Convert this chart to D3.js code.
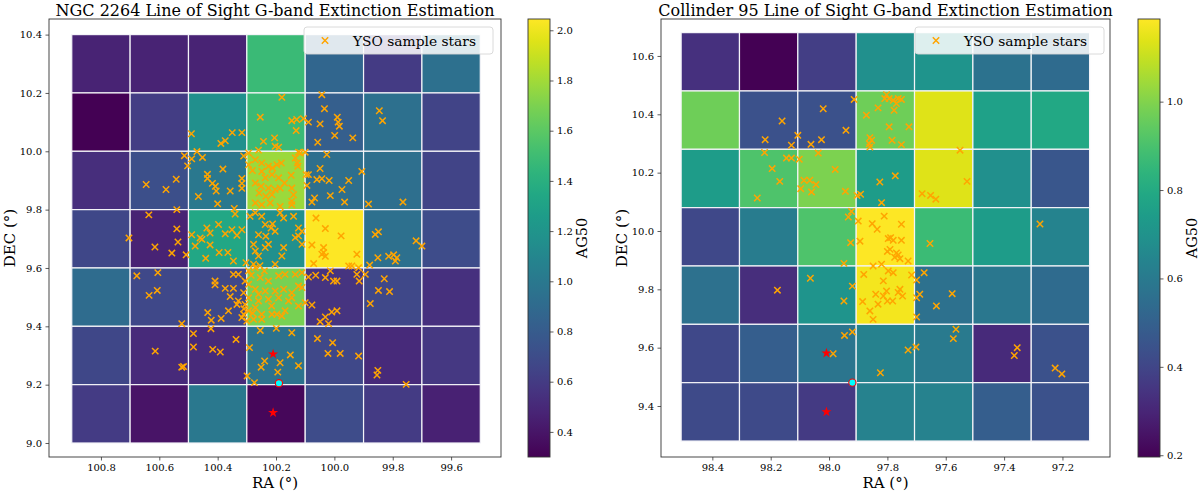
<!DOCTYPE html>
<html><head><meta charset="utf-8">
<script src="https://cdn.jsdelivr.net/npm/d3@7"></script>
<style>
body{margin:0;background:#fff;}
svg{display:block;font-family:"DejaVu Serif",serif;}
</style>
</head><body>
<svg id="chart" width="1200" height="492"></svg>
<script>
// ---------------- DATA ----------------
const ngcTitle = "NGC 2264 Line of Sight G-band Extinction Estimation";
const colTitle = "Collinder 95 Line of Sight G-band Extinction Estimation";

// cell centres
const ngcRA  = [100.8, 100.6, 100.4, 100.2, 100.0, 99.8, 99.6];
const ngcDEC = [10.3, 10.1, 9.9, 9.7, 9.5, 9.3, 9.1];
const ngcAG50 = [
  [0.47, 0.47, 0.47, 1.48, 0.87, 0.60, 0.94],
  [0.30, 0.61, 1.17, 1.48, 0.82, 0.94, 0.65],
  [0.53, 0.72, 1.00, 1.78, 0.93, 0.93, 0.65],
  [0.67, 0.47, 1.34, 1.17, 2.045, 0.94, 0.70],
  [0.91, 0.68, 0.68, 1.69, 0.56, 0.68, 0.54],
  [0.67, 0.51, 0.51, 0.96, 0.68, 0.51, 0.58],
  [0.60, 0.39, 1.00, 0.33, 0.70, 0.60, 0.46]
];
const ngcXTicks = [100.8, 100.6, 100.4, 100.2, 100.0, 99.8, 99.6];
const ngcYTicks = [9.0, 9.2, 9.4, 9.6, 9.8, 10.0, 10.2, 10.4];
const ngcCbTicks = [0.4, 0.6, 0.8, 1.0, 1.2, 1.4, 1.6, 1.8, 2.0];

const colRA  = [98.407, 98.207, 98.007, 97.807, 97.607, 97.407, 97.207];
const colDEC = [10.58, 10.38, 10.18, 9.98, 9.78, 9.58, 9.38];
const colAG50 = [
  [0.335, 0.196, 0.375, 0.69, 0.71, 0.57, 0.54],
  [0.97, 0.44, 0.44, 0.97, 1.14, 0.76, 0.79],
  [0.74, 0.91, 0.99, 0.74, 1.14, 0.69, 0.46],
  [0.41, 0.61, 0.91, 1.187, 0.87, 0.74, 0.64],
  [0.56, 0.325, 0.71, 1.17, 0.56, 0.59, 0.54],
  [0.41, 0.49, 0.58, 0.63, 0.60, 0.315, 0.44],
  [0.42, 0.42, 0.365, 0.63, 0.63, 0.49, 0.44]
];
const colXTicks = [98.4, 98.2, 98.0, 97.8, 97.6, 97.4, 97.2];
const colYTicks = [9.4, 9.6, 9.8, 10.0, 10.2, 10.4, 10.6];
const colCbTicks = [0.2, 0.4, 0.6, 0.8, 1.0];

// YSO sample stars [RA, DEC]
const ngcYSO = [
[100.18,10.185],[100.043,10.194],[100.034,10.146],[100.254,10.117],[100.146,10.105],[100.129,10.109],[100.106,10.112],[100.089,10.100],[100.049,10.094],[99.990,10.117],[99.987,10.100],[99.983,10.086],[100.131,10.071],[99.846,10.139],[99.835,10.105],[100.490,10.060],[100.350,10.064],[100.317,10.064],[100.374,10.036],[100.389,10.027],[100.243,10.034],[100.205,10.046],[100.203,10.017],[100.191,10.014],[100.057,10.031],[99.999,10.054],[99.937,10.046],[100.260,10.004],[100.471,9.999],[100.489,9.974],[100.503,9.950],[100.514,9.985],[100.452,9.979],[100.311,9.984],[100.123,9.997],[100.100,9.997],[100.127,9.960],
[100.382,9.939],[100.435,9.921],[100.435,9.907],[100.418,9.890],[100.408,9.880],[100.405,9.864],[100.357,9.864],[100.466,9.845],[100.400,9.820],[100.343,9.804],[100.317,9.907],[100.317,9.890],[100.317,9.873],
[100.645,9.886],[100.577,9.869],[100.542,9.904],
[100.294,9.994],[100.271,9.971],[100.249,9.960],[100.281,9.934],[100.249,9.931],[100.226,9.949],[100.212,9.943],[100.197,9.954],[100.182,9.960],[100.214,9.920],[100.237,9.909],[100.191,9.909],[100.148,9.918],[100.171,9.891],[100.271,9.891],[100.251,9.880],[100.226,9.874],[100.203,9.869],[100.258,9.857],[100.235,9.846],[100.214,9.851],[100.186,9.874],[100.146,9.874],[100.140,9.851],[100.146,9.829],[100.271,9.823],[100.249,9.817],[100.220,9.823],[100.186,9.811],[100.146,9.817],[100.125,9.949],[100.134,9.977],[100.117,9.994],[100.097,9.920],[100.294,9.954],
[100.026,9.989],[100.049,9.941],[100.089,9.920],[100.060,9.903],[100.043,9.906],[100.018,9.900],[99.951,9.900],[99.906,9.931],[100.094,9.883],[99.974,9.869],[100.014,9.848],[100.068,9.840],[100.077,9.826],[99.965,9.826],[99.883,9.819],[99.765,9.826],
[100.636,9.782],[100.540,9.800],[100.540,9.734],[100.704,9.703],[100.615,9.672],[100.557,9.651],[100.536,9.689],[100.508,9.645],
[100.489,9.714],[100.460,9.703],[100.437,9.737],[100.426,9.720],[100.397,9.749],[100.374,9.717],[100.351,9.731],[100.334,9.712],[100.317,9.731],[100.340,9.785],[100.477,9.675],[100.454,9.698],[100.426,9.679],[100.395,9.653],[100.365,9.653],[100.441,9.633],[100.346,9.624],[100.303,9.618],
[100.289,9.777],[100.271,9.789],[100.249,9.777],[100.237,9.749],[100.217,9.737],[100.203,9.726],[100.212,9.751],[100.186,9.789],[100.174,9.771],[100.140,9.777],[100.123,9.737],[100.111,9.726],[100.260,9.714],[100.235,9.709],[100.277,9.681],[100.271,9.658],[100.260,9.641],[100.237,9.670],[100.226,9.681],[100.180,9.641],[100.174,9.670],[100.203,9.613],[100.277,9.613],[100.134,9.704],[100.111,9.681],[100.123,9.710],[100.255,9.608],
[100.077,9.679],[100.037,9.670],[100.037,9.653],[100.031,9.640],[100.043,9.647],[99.977,9.710],[99.923,9.647],[100.071,9.615],[99.951,9.607],[99.940,9.607],[100.063,9.771],[100.031,9.735],
[99.860,9.715],[99.849,9.724],[99.851,9.635],[99.814,9.640],[99.797,9.645],[99.786,9.635],[99.791,9.624],[99.879,9.610],
[99.720,9.693],[99.700,9.675],
[100.677,9.573],[100.605,9.584],[100.607,9.523],[100.635,9.506],
[100.409,9.555],[100.409,9.542],[100.346,9.578],[100.329,9.578],[100.374,9.530],[100.346,9.530],[100.357,9.502],[100.434,9.447],[100.422,9.421],[100.388,9.427],[100.363,9.453],[100.523,9.409],
[100.294,9.590],[100.271,9.601],[100.254,9.567],[100.226,9.555],[100.191,9.573],[100.169,9.578],[100.134,9.578],[100.111,9.584],[100.294,9.544],[100.271,9.527],[100.237,9.521],[100.203,9.521],[100.174,9.527],[100.146,9.515],[100.123,9.538],[100.100,9.481],[100.294,9.498],[100.260,9.487],[100.226,9.493],[100.191,9.498],[100.157,9.487],[100.294,9.453],[100.271,9.464],[100.249,9.441],[100.214,9.441],[100.180,9.435],[100.311,9.441],[100.306,9.475],[100.277,9.424],[100.249,9.424],[100.300,9.418],[100.317,9.430],[100.329,9.487],[100.334,9.475],[100.311,9.515],[100.306,9.555],[100.123,9.470],[100.169,9.453],[100.146,9.498],[100.197,9.441],[100.285,9.575],[100.240,9.590],[100.260,9.510],[100.215,9.470],[100.280,9.445],[100.310,9.460],
[100.089,9.569],[100.064,9.575],[100.031,9.567],[100.014,9.590],[100.003,9.555],[99.991,9.555],[99.923,9.578],[99.917,9.601],[99.915,9.555],[99.894,9.578],[100.077,9.473],[100.049,9.416],[100.031,9.432],[100.020,9.409],[100.009,9.449],[99.991,9.453],[100.111,9.533],
[99.877,9.478],[99.849,9.523],[99.811,9.519],[99.829,9.563],
[100.614,9.315],[100.523,9.260],[100.517,9.262],
[100.483,9.375],[100.483,9.329],[100.423,9.392],[100.417,9.321],[100.391,9.312],[100.337,9.355],
[100.254,9.386],[100.199,9.393],[100.146,9.378],[100.291,9.327],[100.239,9.281],[100.251,9.260],[100.186,9.275],[100.151,9.302],[100.123,9.265],[100.194,9.243],[100.299,9.230],[100.274,9.207],
[100.058,9.358],[100.006,9.344],[100.022,9.307],[99.980,9.307],[99.917,9.298],
[99.851,9.249],[99.854,9.233],[99.754,9.201]
];
const ngcStars = [[100.21, 9.305], [100.21, 9.104]];
const ngcCentre = [100.19, 9.205];

const colYSO = [
[97.803,10.467],[97.809,10.454],[97.794,10.454],[97.780,10.448],[97.763,10.454],[97.752,10.451],[97.769,10.437],[97.777,10.414],[97.832,10.422],[97.872,10.397],[97.794,10.357],[97.726,10.357],[97.784,10.311],[97.752,10.296],[97.860,10.320],[97.854,10.311],[97.862,10.299],[97.860,10.288],[97.914,10.451],[98.020,10.419],[97.942,10.345],[98.161,10.377],[98.219,10.313],[98.107,10.328],[98.129,10.294],[98.062,10.297],[98.026,10.313],[98.221,10.269],[98.146,10.250],[98.129,10.250],[98.102,10.246],[98.037,10.267],[98.195,10.214],[98.169,10.170],[98.246,10.113],[98.086,10.174],[98.066,10.174],[98.045,10.159],[98.097,10.145],[98.060,10.134],[97.979,10.211],[97.944,10.136],[97.904,10.122],[97.892,10.126],[97.826,10.168],[97.773,10.189],[97.820,10.097],[97.681,10.128],[97.652,10.122],[97.634,10.109],[97.923,10.067],[97.934,10.048],[97.900,10.034],[97.852,10.025],[97.835,10.006],[97.811,10.051],[97.752,10.023],[97.797,9.974],[97.789,9.977],[97.780,9.968],[97.752,9.968],[97.894,9.965],[97.926,9.960],[97.654,9.957],[97.551,10.277],
[97.800,9.930],[97.791,9.937],[97.769,9.925],[97.763,9.918],[97.775,9.910],[97.757,9.905],[97.729,9.897],[97.820,9.886],[97.849,9.880],[97.949,9.889],[97.881,9.851],[97.797,9.863],[97.780,9.857],[97.717,9.849],[97.814,9.829],[98.064,9.838],[97.920,9.811],[97.840,9.783],[97.803,9.794],[97.814,9.777],[97.757,9.800],[97.763,9.789],[97.748,9.777],[97.782,9.760],[97.800,9.760],[97.832,9.749],[97.885,9.758],[97.949,9.760],[97.860,9.726],[97.849,9.697],[98.177,9.797],[97.700,9.832],[97.674,9.857],[97.689,9.783],[97.700,9.771],[97.632,9.743],[97.578,9.785],[97.700,9.705],[97.947,9.642],[97.920,9.654],[97.986,9.579],[97.729,9.592],[97.702,9.602],[97.824,9.514],[97.574,9.631],[97.565,9.663],
[97.527,10.170],[97.277,10.024],[97.355,9.600],[97.365,9.573],[97.225,9.530],[97.202,9.510]
];
const colStars = [[98.009, 9.581], [98.009, 9.380]];
const colCentre = [97.920, 9.480];

const legendLabel = "YSO sample stars";
const cbLabel = "AG50";
const xLabel = "RA (°)";
const yLabel = "DEC (°)";

// ---------------- DRAW ----------------
const svg = d3.select("#chart");
const defs = svg.append("defs");

function drawPanel(p) {
  const x = d3.scaleLinear().domain(p.xDomain).range([p.left, p.right]);
  const y = d3.scaleLinear().domain(p.yDomain).range([p.bottom, p.top]);
  const flat = p.values.flat();
  const vmin = d3.min(flat), vmax = d3.max(flat);
  const color = d3.scaleSequential(d3.interpolateViridis).domain([vmin, vmax]);
  const g = svg.append("g");
  const clipId = "clip" + p.id;
  defs.append("clipPath").attr("id", clipId).append("rect")
    .attr("x", p.left).attr("y", p.top).attr("width", p.right - p.left).attr("height", p.bottom - p.top);

  const halfX = Math.abs(p.ras[1] - p.ras[0]) / 2;
  const halfY = Math.abs(p.decs[1] - p.decs[0]) / 2;
  const cells = [];
  p.decs.forEach((dec, i) => p.ras.forEach((ra, j) => cells.push({ra, dec, v: p.values[i][j]})));

  const plot = g.append("g").attr("clip-path", `url(#${clipId})`);
  plot.selectAll("rect.cell").data(cells).join("rect").attr("class", "cell")
    .attr("x", d => x(d.ra + halfX))
    .attr("y", d => y(d.dec + halfY))
    .attr("width", d => x(d.ra - halfX) - x(d.ra + halfX))
    .attr("height", d => y(d.dec - halfY) - y(d.dec + halfY))
    .attr("fill", d => color(d.v))
    .attr("stroke", "#f4f4f8").attr("stroke-width", 1.2);

  const xs = 3.2;
  plot.selectAll("path.yso").data(p.yso).join("path").attr("class", "yso")
    .attr("transform", d => `translate(${x(d[0])},${y(d[1])})`)
    .attr("d", `M${-xs},${-xs}L${xs},${xs}M${-xs},${xs}L${xs},${-xs}`)
    .attr("stroke", "#ffa500").attr("stroke-width", 1.5).attr("fill", "none");

  plot.selectAll("path.star").data(p.stars).join("path").attr("class", "star")
    .attr("transform", d => `translate(${x(d[0])},${y(d[1])})`)
    .attr("d", d3.symbol(d3.symbolStar, 32)())
    .attr("fill", "red");

  plot.append("circle").attr("cx", x(p.centre[0])).attr("cy", y(p.centre[1]))
    .attr("r", 3.6).attr("fill", "#00ffff").attr("stroke", "red").attr("stroke-width", 1.1);

  // frame
  g.append("rect").attr("x", p.left).attr("y", p.top)
    .attr("width", p.right - p.left).attr("height", p.bottom - p.top)
    .attr("fill", "none").attr("stroke", "#333").attr("stroke-width", 0.9);

  // axes
  const ax = g.append("g").attr("transform", `translate(0,${p.bottom})`)
    .call(d3.axisBottom(x).tickValues(p.xTicks).tickFormat(d3.format(".1f")).tickSize(3.5).tickPadding(3.5));
  const ay = g.append("g").attr("transform", `translate(${p.left},0)`)
    .call(d3.axisLeft(y).tickValues(p.yTicks).tickFormat(d3.format(".1f")).tickSize(3.5).tickPadding(3.5));
  [ax, ay].forEach(a => {
    a.select(".domain").remove();
    a.selectAll(".tick line").attr("stroke", "#333").attr("stroke-width", 0.8);
    a.selectAll(".tick text").attr("font-family", "DejaVu Serif").attr("font-size", 10).attr("fill", "#000");
  });

  g.append("text").attr("x", (p.left + p.right) / 2).attr("y", 488)
    .attr("text-anchor", "middle").attr("font-size", 15).text(xLabel);
  g.append("text").attr("transform", `translate(${p.left - 34},${(p.top + p.bottom) / 2}) rotate(-90)`)
    .attr("text-anchor", "middle").attr("font-size", 15).text(yLabel);
  g.append("text").attr("x", (p.left + p.right) / 2).attr("y", 15.5)
    .attr("text-anchor", "middle").attr("font-size", 16).text(p.title);

  // legend
  const lg = g.append("g");
  lg.append("rect").attr("x", p.legX).attr("y", p.top + 8).attr("width", 189).attr("height", 27)
    .attr("rx", 3).attr("fill", "white").attr("fill-opacity", 0.85).attr("stroke", "#d6d6d6").attr("stroke-width", 0.9);
  lg.append("path").attr("transform", `translate(${p.legX + 21},${p.top + 21.5})`)
    .attr("d", `M${-xs},${-xs}L${xs},${xs}M${-xs},${xs}L${xs},${-xs}`)
    .attr("stroke", "#ffa500").attr("stroke-width", 1.5);
  lg.append("text").attr("x", p.legX + 49).attr("y", p.top + 26.5)
    .attr("font-size", 13.8).text(legendLabel);

  // colorbar
  const cb = d3.scaleLinear().domain([vmin, vmax]).range([p.bottom, p.top]);
  const gid = "grad" + p.id;
  const grad = defs.append("linearGradient").attr("id", gid)
    .attr("x1", 0).attr("y1", 1).attr("x2", 0).attr("y2", 0);
  d3.range(0, 1.0001, 0.05).forEach(t => grad.append("stop")
    .attr("offset", t).attr("stop-color", d3.interpolateViridis(t)));
  g.append("rect").attr("x", p.cbX).attr("y", p.top).attr("width", 22).attr("height", p.bottom - p.top)
    .attr("fill", `url(#${gid})`).attr("stroke", "#333").attr("stroke-width", 0.9);
  const ac = g.append("g").attr("transform", `translate(${p.cbX + 22},0)`)
    .call(d3.axisRight(cb).tickValues(p.cbTicks).tickFormat(d3.format(".1f")).tickSize(3.5).tickPadding(3.5));
  ac.select(".domain").remove();
  ac.selectAll(".tick line").attr("stroke", "#333").attr("stroke-width", 0.8);
  ac.selectAll(".tick text").attr("font-family", "DejaVu Serif").attr("font-size", 10).attr("fill", "#000");
  g.append("text").attr("transform", `translate(${p.cbX + 59},${(p.top + p.bottom) / 2}) rotate(-90)`)
    .attr("text-anchor", "middle").attr("font-size", 14.5).text(cbLabel);
}

drawPanel({
  id: "L", title: ngcTitle, ras: ngcRA, decs: ngcDEC, values: ngcAG50, yso: ngcYSO,
  stars: ngcStars, centre: ngcCentre, xTicks: ngcXTicks, yTicks: ngcYTicks, cbTicks: ngcCbTicks,
  xDomain: [100.978, 99.429], yDomain: [8.952, 10.4535],
  left: 49, right: 501, top: 19, bottom: 457, legX: 304, cbX: 528
});
drawPanel({
  id: "R", title: colTitle, ras: colRA, decs: colDEC, values: colAG50, yso: colYSO,
  stars: colStars, centre: colCentre, xTicks: colXTicks, yTicks: colYTicks, cbTicks: colCbTicks,
  xDomain: [98.576, 97.037], yDomain: [9.2252, 10.7267],
  left: 661, right: 1110, top: 19, bottom: 457, legX: 915, cbX: 1138
});
</script>
</body></html>
